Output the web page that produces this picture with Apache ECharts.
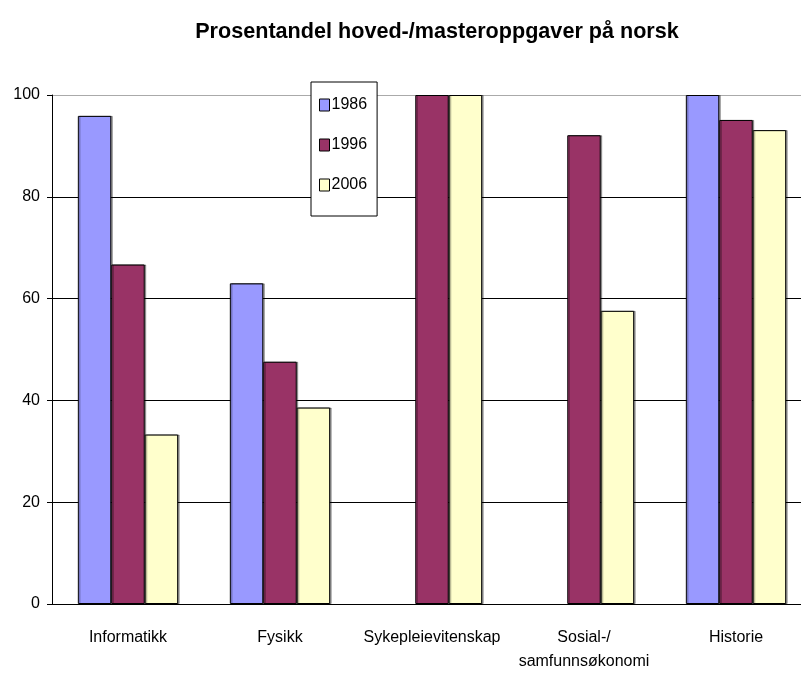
<!DOCTYPE html>
<html>
<head>
<meta charset="utf-8">
<script src="https://cdn.jsdelivr.net/npm/echarts@6/dist/echarts.min.js"></script>
<style>html,body{margin:0;padding:0;background:#fff}#c{width:801px;height:673px}</style>
</head>
<body>
<div id="c"></div>
<script>
const categories = ['Informatikk', 'Fysikk', 'Sykepleievitenskap', 'Sosial-/\nsamfunnsøkonomi', 'Historie'];
const seriesNames = ['1986', '1996', '2006'];
const values1986 = [95.9, 63.0, null, null, 100];
const values1996 = [66.7, 47.6, 100, 92.1, 95.1];
const values2006 = [33.3, 38.6, 100, 57.6, 93.1];
const yTicks = [0, 20, 40, 60, 80, 100];
const colors = ['#9999FF', '#993366', '#FFFFCC'];
const font = '"Liberation Sans", Arial, sans-serif';

const chart = echarts.init(document.getElementById('c'), null, {renderer: 'canvas'});
const allValues = [values1986, values1996, values2006];
chart.setOption({
  animation: false,
  backgroundColor: '#fff',
  title: {
    text: 'Prosentandel hoved-/masteroppgaver på norsk',
    left: 432, top: 16, textAlign: 'center',
    textStyle: {fontFamily: font, fontSize: 21.6, fontWeight: 'bold', color: '#000'}
  },
  legend: {
    orient: 'vertical', left: 311, top: 82,
    padding: [15, 10, 23, 8],
    icon: 'rect',
    itemWidth: 10, itemHeight: 12, itemGap: 24,
    backgroundColor: '#fff', borderColor: '#000', borderWidth: 1,
    textStyle: {fontFamily: font, fontSize: 16, color: '#000', padding: [0, 0, 0, -3]},
    itemStyle: {borderColor: '#000', borderWidth: 1},
    data: seriesNames
  },
  grid: {left: 52, top: 95, width: 760, height: 509, outerBoundsMode: 'none', containLabel: false},
  xAxis: {
    type: 'category', data: categories,
    axisLine: {lineStyle: {color: '#000', width: 1}},
    axisTick: {length: 6, lineStyle: {color: '#000'}},
    axisLabel: {fontFamily: font, fontSize: 16, color: '#000', margin: 22, lineHeight: 24, interval: 0}
  },
  yAxis: {
    type: 'value', min: 0, max: 100, interval: 20,
    axisLine: {show: true, lineStyle: {color: '#000', width: 1}},
    axisTick: {show: true, length: 5, lineStyle: {color: '#000'}},
    axisLabel: {fontFamily: font, fontSize: 16, color: '#000', margin: 12,
      formatter: v => yTicks.includes(v) ? String(v) : ''},
    splitLine: {show: true, lineStyle: {color: ['#000', '#000', '#000', '#000', '#000', '#aaa'], width: 1}}
  },
  series: seriesNames.map((n, i) => ({
    name: n, type: 'bar', data: allValues[i],
    barGap: '0%', barCategoryGap: '34%',
    itemStyle: {color: colors[i], borderColor: '#000', borderWidth: 1,
      shadowColor: 'rgba(0,0,0,0.35)', shadowOffsetX: 1.5, shadowOffsetY: 0, shadowBlur: 0}
  }))
});
</script>
</body>
</html>
